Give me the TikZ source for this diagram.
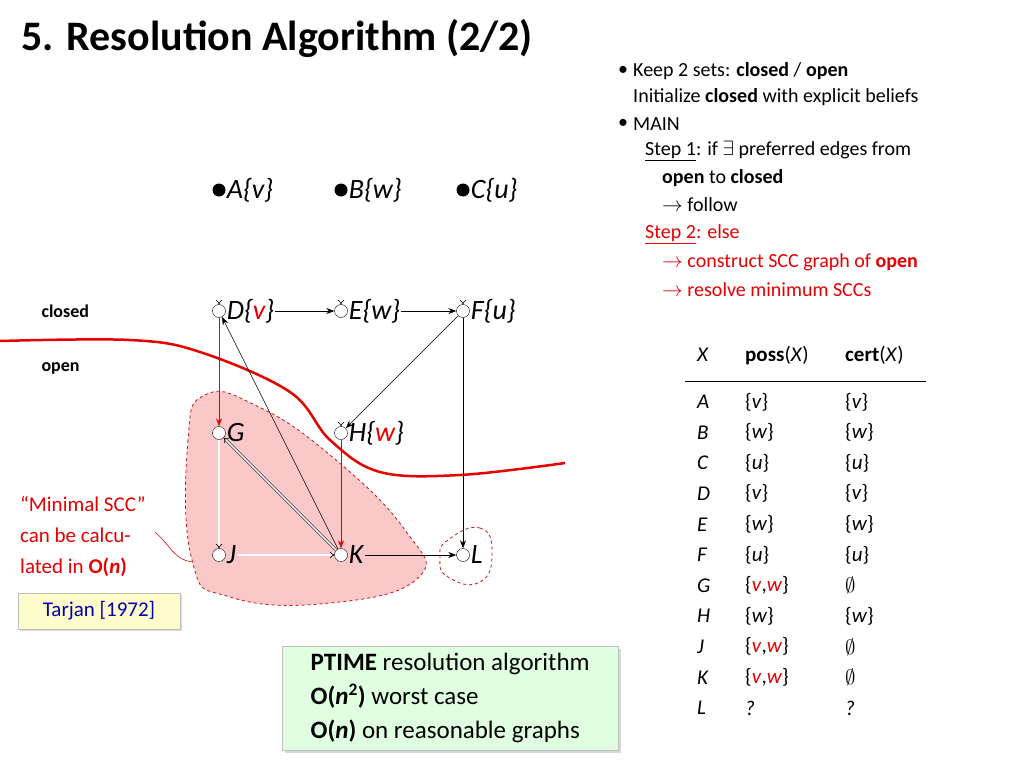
\documentclass[tikz,border=0pt]{standalone}
\usepackage{fontspec}
\setmainfont{Carlito}
\usetikzlibrary{arrows.meta,shadows}
\definecolor{myred}{RGB}{230,0,0}
\definecolor{blobfill}{RGB}{250,200,200}
\definecolor{blobline}{RGB}{200,20,20}
\newcommand{\myvw}{\{\textcolor{myred}{\textit{v}}{,}\textcolor{myred}{\textit{w}}\}}
\newcommand{\myset}[1]{\{\textit{#1}\}}
\newcommand{\myempty}{$\emptyset$}
\begin{document}
\begin{tikzpicture}[x=1pt,y=-1pt,
  vtx/.style={circle,draw,fill=white,inner sep=0pt,minimum size=13pt},
  src/.style={circle,fill=black,inner sep=0pt,minimum size=13pt},
  lbl/.style={anchor=west,font=\fontsize{28}{30}\selectfont\itshape,inner sep=1pt},
  dbl/.style={double,double distance=1.6pt,-{Implies},line width=0.6pt},
  sgl/.style={-{Stealth[length=8pt]},line width=0.6pt},
  rtxt/.style={anchor=west,font=\fontsize{20}{22}\selectfont,inner sep=0pt},
  tb/.style={anchor=west,font=\fontsize{21}{22}\selectfont,inner sep=0pt}]
\useasboundingbox (0,0) rectangle (1024,768);
\fill[white] (0,0) rectangle (1024,768);
\node[anchor=west,font=\fontsize{42}{44}\selectfont\bfseries] (title) at (18,38) {5. Resolution Algorithm (2/2)};
% blobs
\draw[blobline,dashed,fill=blobfill,line width=0.8pt] plot[smooth cycle,tension=0.8] coordinates {(205,395) (188,440) (192,560) (230,597) (330,603) (418,578) (405,530) (330,455) (255,405)};
\draw[blobline,dashed,line width=0.8pt] plot[smooth cycle,tension=0.9] coordinates {(448,540) (480,528) (492,553) (480,582) (448,577) (440,557)};
% red boundary
\draw[myred,line width=2.5pt] plot[smooth,tension=0.6] coordinates {(0,341) (130,340) (200,352) (290,392) (330,440) (380,472) (460,475) (565,463)};
% nodes
\node[src] (A) at (219,190) {};
\node[src] (B) at (341,190) {};
\node[src] (C) at (463,190) {};
\node[vtx] (D) at (219,311) {};
\node[vtx] (E) at (341,311) {};
\node[vtx] (F) at (463,311) {};
\node[vtx] (G) at (219,433) {};
\node[vtx] (H) at (341,433) {};
\node[vtx] (J) at (219,555) {};
\node[vtx] (K) at (341,555) {};
\node[vtx] (L) at (463,555) {};
\node[lbl] (lA) at (A.east) {A\{v\}};
\node[lbl] (lB) at (B.east) {B\{w\}};
\node[lbl] (lC) at (C.east) {C\{u\}};
\node[lbl] (lD) at (D.east) {D\{\textcolor{myred}{v}\}};
\node[lbl] (lE) at (E.east) {E\{w\}};
\node[lbl] (lF) at (F.east) {F\{u\}};
\node[lbl] (lG) at (G.east) {G};
\node[lbl] (lH) at (H.east) {H\{\textcolor{myred}{w}\}};
\node[lbl] (lJ) at (J.east) {J};
\node[lbl] (lK) at (K.east) {K};
\node[lbl] (lL) at (L.east) {L};
% edges
\draw[dbl] (A) -- (D);
\draw[dbl] (B) -- (E);
\draw[dbl] (C) -- (F);
\draw[dbl] (E) -- (H);
\draw[dbl] (G) -- (J);
\draw[dbl] (lJ.east) -- (K);
\draw[dbl] (K) -- (G);
\draw[sgl] (lD.east) -- (E);
\draw[sgl] (lE.east) -- (F);
\draw[sgl] (F) -- (H);
\draw[sgl] (F) -- (L);
\draw[sgl] (K) -- (D);
\draw[sgl] (lK.east) -- (L);
\draw[sgl,myred] (D) -- (G);
\draw[sgl,myred] (H) -- (K);
% left labels
\node[anchor=west,font=\fontsize{18}{20}\selectfont\bfseries] (closed) at (38,311) {closed};
\node[anchor=west,font=\fontsize{18}{20}\selectfont\bfseries] (open) at (38,368) {open};
\node[anchor=north west,align=left,text=myred,font=\fontsize{21}{31}\selectfont,inner sep=0pt] (minscc) at (20,496) {“Minimal SCC”\\can be calcu-\\lated in \textbf{O(\textit{n})}};
\coordinate (blobpt) at (193,562);
\draw[blobline,line width=0.6pt] (155,532) to[out=-40,in=175] (blobpt);
\node[draw=gray!50,fill=yellow!20,drop shadow={opacity=0.3},text=blue!70!black,font=\fontsize{21}{22}\selectfont,minimum width=162pt,minimum height=36pt] (tarjan) at (99,611) {Tarjan [1972]};
\node[draw=gray!50,fill=green!12,drop shadow={opacity=0.3},anchor=north west,align=left,font=\fontsize{25}{34}\selectfont,minimum width=336pt,minimum height=104pt,inner xsep=8pt] (ptime) at (282,646) {\textbf{PTIME} resolution algorithm\\\textbf{O(\textit{n}\textsuperscript{2})} worst case\\\textbf{O(\textit{n})} on reasonable graphs};
% right text
\node[rtxt] (b1) at (618,71) {•};
\node[rtxt] (t1) at (633,71) {Keep 2 sets: \textbf{closed} / \textbf{open}};
\node[rtxt] (t2) at (633,97) {Initialize \textbf{closed} with explicit beliefs};
\node[rtxt] (b2) at (618,124) {•};
\node[rtxt] (t3) at (633,124) {MAIN};
\node[rtxt] (t4) at (645,151) {\underline{Step 1}: if $\exists$ preferred edges from};
\node[rtxt] (t5) at (662,178) {\textbf{open} to \textbf{closed}};
\node[rtxt] (t6) at (662,205) {$\rightarrow$ follow};
\node[rtxt,text=myred] (t7) at (645,234) {\underline{Step 2}: else};
\node[rtxt,text=myred] (t8) at (662,262) {$\rightarrow$ construct SCC graph of \textbf{open}};
\node[rtxt,text=myred] (t9) at (662,290) {$\rightarrow$ resolve minimum SCCs};
% table
\node[tb] (hX) at (697,355) {\textit{X}};
\node[tb] (hp) at (745,355) {\textbf{poss}(\textit{X})};
\node[tb] (hc) at (845,355) {\textbf{cert}(\textit{X})};
\coordinate (tl) at (685,381);
\coordinate (tr) at (926,381);
\draw[line width=0.6pt] (tl) -- (tr);
\foreach \i/\x/\p/\c in {0/A/\myset{v}/\myset{v},1/B/\myset{w}/\myset{w},2/C/\myset{u}/\myset{u},3/D/\myset{v}/\myset{v},4/E/\myset{w}/\myset{w},5/F/\myset{u}/\myset{u},6/G/\myvw/\myempty,7/H/\myset{w}/\myset{w},8/J/\myvw/\myempty,9/K/\myvw/\myempty,10/L/\textit{?}/\textit{?}}{
  \node[tb] (r\i x) at (697,402+30.6*\i) {\textit{\x}};
  \node[tb] (r\i p) at (745,402+30.6*\i) {\p};
  \node[tb] (r\i c) at (845,402+30.6*\i) {\c};
}
\end{tikzpicture}
\end{document}
